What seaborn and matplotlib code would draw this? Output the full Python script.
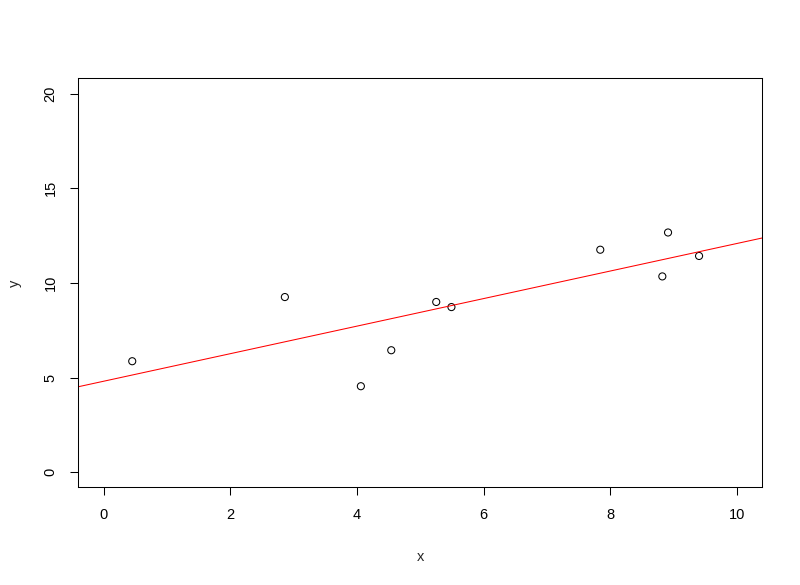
import numpy as np
import pandas as pd
import matplotlib
matplotlib.use("Agg")
import matplotlib.pyplot as plt
import seaborn as sns

# data
x = [0.45, 2.86, 4.06, 4.54, 5.25, 5.49, 7.84, 8.91, 8.82, 9.40]
y = [5.86, 9.25, 4.54, 6.44, 8.99, 8.72, 11.75, 12.66, 10.34, 11.42]
x_ticks = [0, 2, 4, 6, 8, 10]
y_ticks = [0, 5, 10, 15, 20]

df = pd.DataFrame({"x": x, "y": y})

sns.set_style("ticks")
plt.rcParams["font.family"] = ["Liberation Sans", "DejaVu Sans"]
plt.rcParams["axes.linewidth"] = 0.75

fig = plt.figure(figsize=(8, 5.85), dpi=100)
ax = fig.add_axes([0.098, 0.167, 0.855, 0.699])

sns.scatterplot(data=df, x="x", y="y", ax=ax, marker="o", s=26,
                facecolor="none", edgecolor="black", linewidth=0.75)

# least squares line, like abline(lm(y ~ x))
slope, intercept = np.polyfit(df["x"], df["y"], 1)
ax.axline((0, intercept), slope=slope, color="red", lw=0.75)

ax.set_xlim(-0.4, 10.4)
ax.set_ylim(-0.8, 20.8)
ax.set_xticks(x_ticks)
ax.set_yticks(y_ticks)
ax.tick_params(axis="both", length=5.5, width=0.75, pad=9.5,
               labelsize=10.5, colors="black", direction="out")
for lab in ax.get_yticklabels():
    lab.set_rotation(90)
    lab.set_va("center")

for sp in ax.spines.values():
    sp.set_visible(True)
    sp.set_color("black")

ax.set_xlabel("x", fontsize=10.5)
ax.set_ylabel("y", fontsize=10.5)
ax.xaxis.label.set_va("center")
ax.yaxis.label.set_va("center")
ax.xaxis.set_label_coords(0.5, -0.17)
ax.yaxis.set_label_coords(-0.093, 0.5)

fig.savefig("out.png", dpi=100)
